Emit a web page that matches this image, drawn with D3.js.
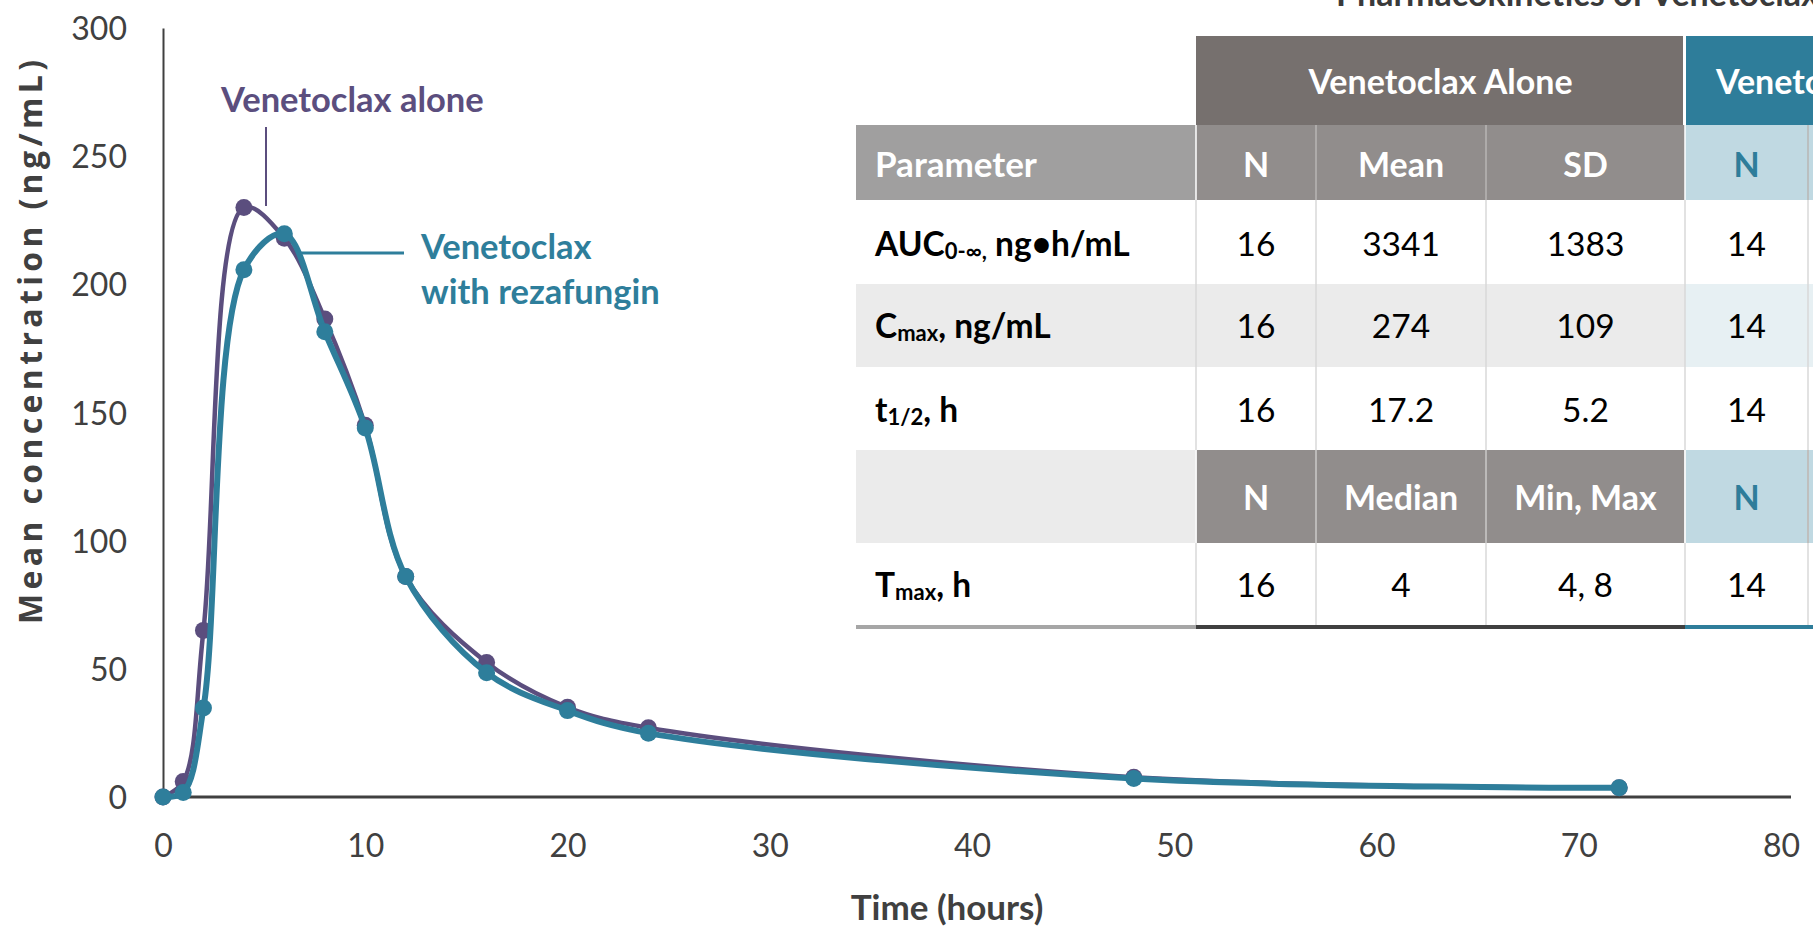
<!DOCTYPE html>
<html>
<head>
<meta charset="utf-8">
<script src="https://cdn.jsdelivr.net/npm/d3@7"></script>
<style>
  html, body { margin: 0; padding: 0; background: #fff; overflow: hidden; }
  svg { font-family: Lato, "Open Sans", sans-serif; }
</style>
</head>
<body>
<script>
// ---------- data ----------
const times = [0, 1, 2, 4, 6, 8, 10, 12, 16, 20, 24, 48, 72];
const venetoclaxAlone = [0, 6, 65, 230, 218, 186.5, 145, 86, 52.5, 35, 27, 7.7, 3.6];
const venetoclaxWithRezafungin = [0, 1.8, 34.7, 205.7, 219.7, 181.5, 144, 86, 48.5, 33.7, 24.9, 7.2, 3.6];
const xTicks = [0, 10, 20, 30, 40, 50, 60, 70, 80];
const yTicks = [0, 50, 100, 150, 200, 250, 300];

const groupHeaders = ["Venetoclax Alone", "Venetoclax + Rezafungin"];
const subHeaders1 = ["N", "Mean", "SD"];
const subHeaders2 = ["N", "Median", "Min, Max"];
const rowLabels = [
  {main: "AUC", sub: "0-∞,", rest: " ng•h/mL"},
  {main: "C", sub: "max", rest: ", ng/mL"},
  {main: "t", sub: "1/2", rest: ", h"},
  null,
  {main: "T", sub: "max", rest: ", h"}
];
const aloneN = ["16", "16", "16", null, "16"];
const aloneCentral = ["3341", "274", "17.2", null, "4"];
const aloneSpread = ["1383", "109", "5.2", null, "4, 8"];
const rezN = ["14", "14", "14", null, "14"];

// ---------- colors ----------
const PURPLE = "#5B4E7E";
const TEAL = "#2E7E9B";
const AXIS = "#404040";

const W = 1813, H = 927;
const svg = d3.select("body").append("svg").attr("width", W).attr("height", H);

// ---------- scales ----------
const x = d3.scaleLinear().domain([0, 80]).range([163, 1781]);
const y = d3.scaleLinear().domain([0, 300]).range([797, 28]);

// ---------- title (cut off at top) ----------
svg.append("text").attr("x", 1336).attr("y", 6)
  .attr("font-size", 34).attr("font-weight", 700).attr("fill", "#3a3a3a")
  .text("Pharmacokinetics of Venetoclax");

// ---------- axes ----------
const yAxis = d3.axisLeft(y).tickValues(yTicks).tickSize(0).tickPadding(0).tickFormat(d3.format("d"));
const gy = svg.append("g").attr("transform", `translate(${x(0)},0)`).call(yAxis);
gy.select(".domain").attr("stroke", AXIS).attr("stroke-width", 2);
gy.selectAll(".tick text").attr("x", 127 - x(0)).attr("dy", "0.36em")
  .attr("font-size", 32).attr("fill", AXIS).attr("font-family", "Lato").attr("text-anchor", "end");

const xAxis = d3.axisBottom(x).tickValues(xTicks).tickSize(0).tickPadding(0).tickFormat(d3.format("d"));
const gx = svg.append("g").attr("transform", `translate(0,${y(0)})`).call(xAxis);
gx.select(".domain").remove();
gx.selectAll(".tick text").attr("y", 60).attr("dy", 0)
  .attr("font-size", 32).attr("fill", AXIS).attr("font-family", "Lato");
svg.append("line").attr("x1", x(0)).attr("x2", x(80) + 10)
  .attr("y1", y(0)).attr("y2", y(0)).attr("stroke", AXIS).attr("stroke-width", 3);

// axis titles
svg.append("text").attr("x", 947).attr("y", 920).attr("text-anchor", "middle")
  .attr("font-size", 35).attr("font-weight", 700).attr("fill", AXIS)
  .text("Time (hours)");
svg.append("text").attr("transform", "translate(42,342) rotate(-90)")
  .attr("text-anchor", "middle").attr("font-family", "Open Sans")
  .attr("font-size", 32).attr("font-weight", 700).attr("fill", AXIS)
  .attr("textLength", 564).attr("lengthAdjust", "spacing")
  .text("Mean concentration (ng/mL)");

// ---------- table ----------
const colX = [856, 1196, 1316, 1486, 1685, 1808, 1990];
const rowY = [36, 125, 200, 284, 367, 450, 543, 625];
const FS = 34;
const T = svg.append("g");
// header row 1
T.append("rect").attr("x", colX[1]).attr("y", rowY[0]).attr("width", colX[4] - colX[1] - 2).attr("height", rowY[1] - rowY[0]).attr("fill", "#76706E");
T.append("rect").attr("x", colX[4] + 1).attr("y", rowY[0]).attr("width", W - colX[4]).attr("height", rowY[1] - rowY[0]).attr("fill", "#2E7D9A");
// header row 2
T.append("rect").attr("x", colX[0]).attr("y", rowY[1]).attr("width", colX[1] - colX[0]).attr("height", rowY[2] - rowY[1]).attr("fill", "#A09F9F");
T.append("rect").attr("x", colX[1]).attr("y", rowY[1]).attr("width", colX[4] - colX[1]).attr("height", rowY[2] - rowY[1]).attr("fill", "#918D8C");
T.append("rect").attr("x", colX[4]).attr("y", rowY[1]).attr("width", W - colX[4]).attr("height", rowY[2] - rowY[1]).attr("fill", "#C0D9E2");
// Cmax shaded row
T.append("rect").attr("x", colX[0]).attr("y", rowY[3]).attr("width", colX[4] - colX[0]).attr("height", rowY[4] - rowY[3]).attr("fill", "#EBEBEB");
T.append("rect").attr("x", colX[4]).attr("y", rowY[3]).attr("width", W - colX[4]).attr("height", rowY[4] - rowY[3]).attr("fill", "#E7F0F3");
// header row 3
T.append("rect").attr("x", colX[0]).attr("y", rowY[5]).attr("width", colX[1] - colX[0]).attr("height", rowY[6] - rowY[5]).attr("fill", "#EBEBEB");
T.append("rect").attr("x", colX[1]).attr("y", rowY[5]).attr("width", colX[4] - colX[1]).attr("height", rowY[6] - rowY[5]).attr("fill", "#918D8C");
T.append("rect").attr("x", colX[4]).attr("y", rowY[5]).attr("width", W - colX[4]).attr("height", rowY[6] - rowY[5]).attr("fill", "#C0D9E2");

// vertical separators
[1, 2, 3, 4, 5].forEach(i => {
  T.append("line").attr("x1", colX[i]).attr("x2", colX[i]).attr("y1", rowY[2]).attr("y2", rowY[7])
    .attr("stroke", "#D9D9D9").attr("stroke-width", 1.5);
  const hc = i === 1 || i === 4 ? "#ffffff" : "#b9b6b5";
  [[1, 2], [5, 6]].forEach(([a, b]) => {
    T.append("line").attr("x1", colX[i]).attr("x2", colX[i]).attr("y1", rowY[a]).attr("y2", rowY[b])
      .attr("stroke", hc).attr("stroke-width", 1.5);
  });
});
// bottom border
T.append("rect").attr("x", colX[0]).attr("y", rowY[7]).attr("width", colX[1] - colX[0]).attr("height", 4).attr("fill", "#A6A6A6");
T.append("rect").attr("x", colX[1]).attr("y", rowY[7]).attr("width", colX[4] - colX[1]).attr("height", 4).attr("fill", "#404040");
T.append("rect").attr("x", colX[4]).attr("y", rowY[7]).attr("width", W - colX[4]).attr("height", 4).attr("fill", "#2E7D9A");

// header texts
T.append("text").attr("x", (colX[1] + colX[4]) / 2).attr("y", 94).attr("text-anchor", "middle")
  .attr("font-size", FS).attr("font-weight", 700).attr("fill", "#fff").text(groupHeaders[0]);
T.append("text").attr("x", 1716).attr("y", 94)
  .attr("font-size", FS).attr("font-weight", 700).attr("fill", "#fff").text(groupHeaders[1]);
T.append("text").attr("x", 875).attr("y", 177).attr("font-size", 35).attr("font-weight", 700).attr("fill", "#fff").text("Parameter");
const centers = [(colX[1] + colX[2]) / 2, (colX[2] + colX[3]) / 2, (colX[3] + colX[4]) / 2, (colX[4] + colX[5]) / 2];
subHeaders1.forEach((h, i) => T.append("text").attr("x", centers[i]).attr("y", 177).attr("text-anchor", "middle")
  .attr("font-size", FS).attr("font-weight", 700).attr("fill", "#fff").text(h));
T.append("text").attr("x", centers[3]).attr("y", 177).attr("text-anchor", "middle")
  .attr("font-size", FS).attr("font-weight", 700).attr("fill", "#2E7D9A").text("N");
subHeaders2.forEach((h, i) => T.append("text").attr("x", centers[i]).attr("y", 510).attr("text-anchor", "middle")
  .attr("font-size", FS).attr("font-weight", 700).attr("fill", "#fff").text(h));
T.append("text").attr("x", centers[3]).attr("y", 510).attr("text-anchor", "middle")
  .attr("font-size", FS).attr("font-weight", 700).attr("fill", "#2E7D9A").text("N");

// body rows
const baselines = [256, 338, 422, 510, 597];
rowLabels.forEach((lab, r) => {
  if (!lab) return;
  const t = T.append("text").attr("x", 875).attr("y", baselines[r]).attr("font-size", 33.5).attr("font-weight", 700).attr("fill", "#000");
  t.append("tspan").text(lab.main);
  t.append("tspan").attr("font-size", 22).attr("dy", 3).text(lab.sub);
  t.append("tspan").attr("dy", -3).text(lab.rest);
  [aloneN[r], aloneCentral[r], aloneSpread[r], rezN[r]].forEach((v, c) => {
    T.append("text").attr("x", centers[c]).attr("y", baselines[r]).attr("text-anchor", "middle")
      .attr("font-size", 33.5).attr("fill", "#000").text(v);
  });
});

// ---------- lines ----------
const line = d3.line().x(d => x(d[0])).y(d => y(d[1])).curve(d3.curveCatmullRom.alpha(0.5));
const series = [
  {vals: venetoclaxAlone, color: PURPLE, w: 4.5},
  {vals: venetoclaxWithRezafungin, color: TEAL, w: 6}
];
series.forEach(s => {
  const pts = times.map((t, i) => [t, s.vals[i]]);
  svg.append("path").datum(pts).attr("d", line).attr("fill", "none")
    .attr("stroke", s.color).attr("stroke-width", s.w).attr("stroke-linejoin", "round");
  svg.append("g").selectAll("circle").data(pts).join("circle")
    .attr("cx", d => x(d[0])).attr("cy", d => y(d[1])).attr("r", 8.5).attr("fill", s.color);
});

// ---------- annotations ----------
svg.append("line").attr("x1", 266).attr("x2", 266).attr("y1", 127).attr("y2", 206)
  .attr("stroke", PURPLE).attr("stroke-width", 2);
svg.append("text").attr("x", 221).attr("y", 112).attr("font-size", 34.5).attr("font-weight", 700)
  .attr("fill", PURPLE).text("Venetoclax alone");
svg.append("line").attr("x1", 297).attr("x2", 404).attr("y1", 253).attr("y2", 253)
  .attr("stroke", TEAL).attr("stroke-width", 3);
svg.append("text").attr("x", 421).attr("y", 259).attr("font-size", 34.5).attr("font-weight", 700)
  .attr("fill", TEAL).text("Venetoclax");
svg.append("text").attr("x", 421).attr("y", 304).attr("font-size", 34.5).attr("font-weight", 700)
  .attr("fill", TEAL).text("with rezafungin");
</script>
</body>
</html>
